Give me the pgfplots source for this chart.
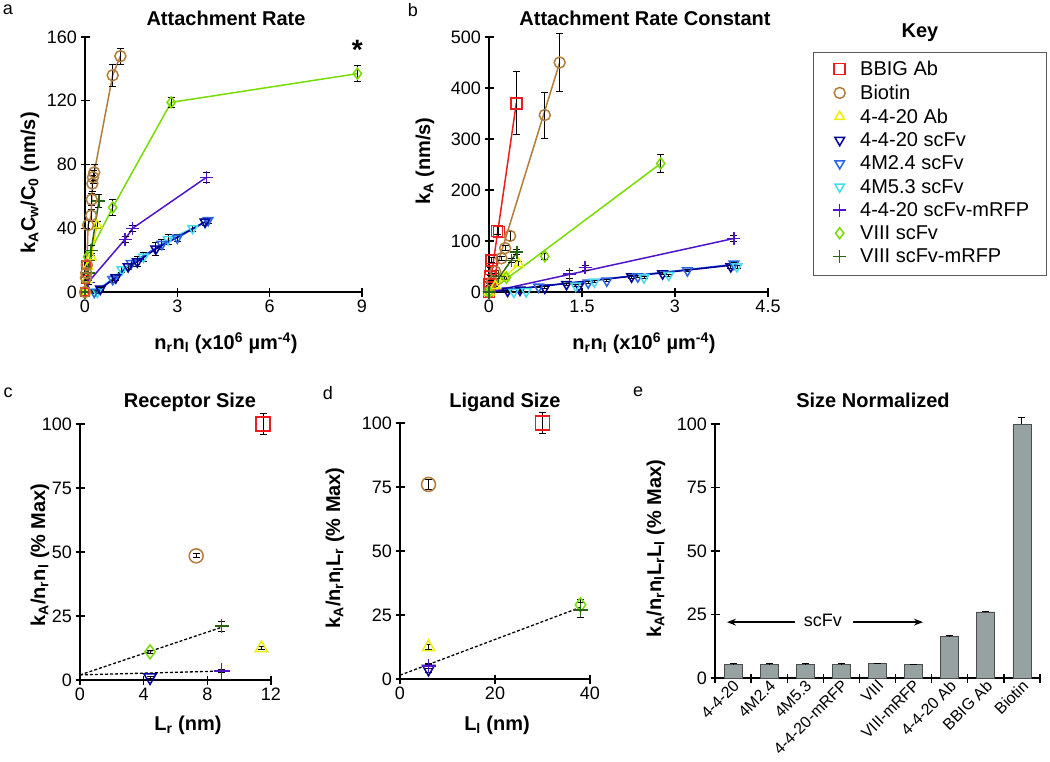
\documentclass[border=0pt]{standalone}
\usepackage{fontspec}
\setmainfont{Liberation Sans}
\usepackage{pgfplots}
\pgfplotsset{compat=1.18}
\usetikzlibrary{arrows.meta}

\definecolor{cRed}{RGB}{235,30,30}
\definecolor{cBrown}{RGB}{178,125,60}
\definecolor{cYel}{RGB}{238,238,0}
\definecolor{cDBlue}{RGB}{0,0,150}
\definecolor{cMBlue}{RGB}{40,100,230}
\definecolor{cCyan}{RGB}{70,220,240}
\definecolor{cPurp}{RGB}{80,20,200}
\definecolor{cLGreen}{RGB}{120,220,0}
\definecolor{cDGreen}{RGB}{40,100,20}
\definecolor{cBar}{RGB}{150,162,162}

\newcommand{\tfont}{\bfseries\fontsize{20}{24}\selectfont}
\newcommand{\lfont}{\bfseries\fontsize{20}{24}\selectfont}

\pgfplotsset{
  panel/.style={scale only axis, clip=false, anchor=south west,
    axis x line*=bottom, axis y line*=left,
    axis line style={line width=1.6pt,-},
    every tick/.style={black, line width=1.3pt},
    tick align=center, major tick length=9pt,
    tick label style={font=\fontsize{18}{18}\selectfont},
    /pgf/number format/assume math mode=true},
  eb/.style={error bars/.cd, y dir=both, y explicit,
    error bar style={black, line width=0.9pt},
    error mark options={black, rotate=90, mark size=3.5pt, line width=0.9pt}},
  s1/.style={cRed, mark=square, line width=1.5pt, mark options={solid}},
  s2/.style={cBrown, mark=o, line width=1.5pt, mark options={solid}},
  s3/.style={cYel, mark=triangle, line width=1.5pt, mark options={solid}},
  s4/.style={cDBlue, mark=triangle, line width=1.5pt, mark options={solid, rotate=180}},
  s5/.style={cMBlue, mark=triangle, line width=1.5pt, mark options={solid, rotate=180}},
  s6/.style={cCyan, mark=triangle, line width=1.5pt, mark options={solid, rotate=180}},
  s7/.style={cPurp, mark=+, line width=1.5pt, mark options={solid}},
  s8/.style={cLGreen, mark=diamond, line width=1.5pt, mark options={solid}},
  s9/.style={cDGreen, mark=+, line width=1.5pt, mark options={solid}},
}

\begin{document}
\begin{tikzpicture}
\useasboundingbox (0,0) rectangle (1050pt,-761pt);

% ---------------- a: Attachment Rate
\begin{axis}[panel, at={(85pt,-292pt)}, width=277pt, height=255pt,
  xmin=0, xmax=9, ymin=0, ymax=160, xtick={0,3,6,9}, ytick={0,40,...,160},
  mark size=5.5pt]
\addplot[s6, eb] coordinates {(0.4,0)+-(0,1) (1.2,14)+-(0,2) (1.9,22)+-(0,3) (2.7,33)+-(0,3) (3.5,40)+-(0,2) (3.9,44)+-(0,2)};
\addplot[s5, eb] coordinates {(0.3,0)+-(0,1) (0.9,8)+-(0,2) (1.5,18)+-(0,2) (2.5,30)+-(0,3) (3.0,34)+-(0,2) (4.0,45)+-(0,2)};
\addplot[s4, eb] coordinates {(0.5,2)+-(0,1) (1.0,9)+-(0,2) (1.4,16)+-(0,2) (1.7,19)+-(0,3) (2.3,27)+-(0,4) (3.9,44)+-(0,2)};
\addplot[s7, mark size=6.5pt, eb] coordinates {(0.1,6)+-(0,1) (1.3,33)+-(0,2) (1.55,40)+-(0,2) (3.95,72)+-(0,3)};
\addplot[s8, eb] coordinates {(0,0)+-(0,0) (0.08,22)+-(0,3) (0.9,53)+-(0,5) (2.8,119)+-(0,3) (8.85,137)+-(0,5)};
\addplot[s3, eb] coordinates {(0,0)+-(0,0) (0.05,8)+-(0,1) (0.1,16)+-(0,2) (0.2,22)+-(0,2) (0.39,42)+-(0,2)};
\addplot[s9, mark size=6.5pt, eb] coordinates {(0,0)+-(0,0) (0.1,12)+-(0,2) (0.2,26)+-(0,3) (0.45,57)+-(0,4)};
\addplot[s1, mark size=4pt, eb] coordinates {(0,0)+-(0,0) (0.02,8)+-(0,1) (0.04,17)+-(0,2)};
\addplot[s2, eb] coordinates {(0,0)+-(0,0) (0.03,9)+-(0,2) (0.04,12)+-(0,2) (0.06,17)+-(0,2) (0.1,42)+-(0,3) (0.2,48)+-(0,4) (0.22,58)+-(0,4) (0.24,68)+-(0,5) (0.26,72)+-(0,4) (0.3,75)+-(0,5) (0.9,136)+-(0,7) (1.15,148)+-(0,5)};
\node[font=\bfseries\fontsize{28}{28}\selectfont] at (axis cs:8.85,152) {*};
\end{axis}

% ---------------- b: Attachment Rate Constant
\begin{axis}[panel, at={(489pt,-292pt)}, width=279pt, height=255pt,
  xmin=0, xmax=4.5, ymin=0, ymax=500, xtick={0,1.5,3,4.5}, ytick={0,100,...,500},
  mark size=5.5pt,
  legend style={at={(1.233,0.914)}, anchor=north west, draw=none, fill=none,
    inner sep=0pt, font=\fontsize{20}{23}\selectfont, row sep=3.8pt,
    /tikz/every odd column/.append style={column sep=12pt}},
  legend cell align=left]
% fit lines
\addplot[cMBlue, line width=1.5pt, forget plot] coordinates {(0,0) (4.0,55)};
\addplot[cDBlue, line width=1.5pt, forget plot] coordinates {(0,0) (3.95,53)};
\addplot[cPurp, line width=1.5pt, forget plot] coordinates {(0,0) (3.95,105)};
\addplot[cLGreen, line width=1.5pt, forget plot] coordinates {(0,0) (2.77,252)};
\addplot[cYel, line width=1.5pt, forget plot] coordinates {(0,0) (0.48,55)};
\addplot[cDGreen, line width=1.5pt, forget plot] coordinates {(0,0) (0.45,78)};
\addplot[cBrown, line width=1.5pt, forget plot] coordinates {(0,0) (1.14,450)};
\addplot[cRed, line width=1.5pt, forget plot] coordinates {(0,0) (0.44,370)};
% data
\addplot[s1, only marks, eb] coordinates {(0,0)+-(0,0) (0.01,15)+-(0,2) (0.02,30)+-(0,3) (0.03,45)+-(0,4) (0.04,62)+-(0,5) (0.13,120)+-(0,8) (0.16,118)+-(0,10) (0.44,370)+-(0,62)};
\addlegendentry{BBIG Ab}
\addplot[s2, only marks, eb] coordinates {(0,0)+-(0,0) (0.05,20)+-(0,2) (0.1,40)+-(0,3) (0.2,66)+-(0,4) (0.26,86)+-(0,5) (0.34,110)+-(0,8) (0.9,347)+-(0,45) (1.14,450)+-(0,57)};
\addlegendentry{Biotin}
\addplot[s3, only marks, eb] coordinates {(0,0)+-(0,0) (0.1,12)+-(0,2) (0.25,28)+-(0,3) (0.48,55)+-(0,5)};
\addlegendentry{4-4-20 Ab}
\addplot[s4, only marks, eb] coordinates {(0.3,2)+-(0,1) (0.5,4)+-(0,1) (0.9,8)+-(0,2) (1.25,15)+-(0,2) (1.45,12)+-(0,2) (2.3,30)+-(0,3) (2.8,36)+-(0,2) (3.9,50)+-(0,3)};
\addlegendentry{4-4-20 scFv}
\addplot[s5, only marks, eb] coordinates {(0.8,10)+-(0,1) (1.6,18)+-(0,2) (1.9,22)+-(0,2) (2.4,30)+-(0,2) (3.2,42)+-(0,2) (3.95,55)+-(0,3)};
\addlegendentry{4M2.4 scFv}
\addplot[s6, only marks, eb] coordinates {(0.4,0)+-(0,1) (0.6,1)+-(0,1) (1.4,12)+-(0,2) (1.7,20)+-(0,2) (2.5,28)+-(0,2) (2.9,33)+-(0,2) (4.0,50)+-(0,3)};
\addlegendentry{4M5.3 scFv}
\addplot[s7, only marks, mark size=6.5pt, eb] coordinates {(0,0)+-(0,0) (1.3,35)+-(0,8) (1.55,48)+-(0,5) (3.95,105)+-(0,6)};
\addlegendentry{4-4-20 scFv-mRFP}
\addplot[s8, only marks, eb] coordinates {(0,0)+-(0,0) (0.28,28)+-(0,3) (0.9,70)+-(0,6) (2.77,252)+-(0,17)};
\addlegendentry{VIII scFv}
\addplot[s9, only marks, mark size=6.5pt, eb] coordinates {(0,0)+-(0,0) (0.15,30)+-(0,3) (0.36,62)+-(0,4) (0.45,78)+-(0,5)};
\addlegendentry{VIII scFv-mRFP}
\end{axis}

% ---------------- c: Receptor Size
\begin{axis}[panel, at={(80pt,-680pt)}, width=191pt, height=256pt,
  xmin=0, xmax=12, ymin=0, ymax=100, xtick={0,4,8,12}, ytick={0,25,...,100},
  mark size=7pt]
\addplot[black, densely dashed, line width=1.3pt] coordinates {(0,2) (8.9,20.6)};
\addplot[black, densely dashed, line width=1.3pt] coordinates {(0,2) (8.9,3.5)};
\addplot[s1, only marks, eb] coordinates {(11.5,100)+-(0,4)};
\addplot[s2, only marks, eb] coordinates {(7.3,48.5)+-(0,0.8)};
\addplot[s3, only marks, eb] coordinates {(11.4,12.5)+-(0,0.6)};
\addplot[s4, only marks, eb] coordinates {(4.4,1)+-(0,0.3)};
\addplot[s8, only marks, eb] coordinates {(4.4,11)+-(0,0.5)};
\addplot[s7, only marks, mark size=8pt, eb] coordinates {(8.9,3.5)+-(0,0.5)};
\addplot[s9, only marks, eb] coordinates {(8.9,21)+-(0,2)};
\end{axis}

% ---------------- d: Ligand Size
\begin{axis}[panel, at={(400pt,-679pt)}, width=190pt, height=256pt,
  xmin=0, xmax=40, ymin=0, ymax=100, xtick={0,20,40}, ytick={0,25,...,100},
  mark size=7pt]
\addplot[black, densely dashed, line width=1.3pt] coordinates {(0,1.5) (38,28)};
\addplot[s1, only marks, eb] coordinates {(30,100)+-(0,4)};
\addplot[s2, only marks, eb] coordinates {(6,76)+-(0,2)};
\addplot[s3, only marks, eb] coordinates {(6,12.5)+-(0,1)};
\addplot[s4, only marks, eb] coordinates {(6,4)+-(0,1.5)};
\addplot[s7, only marks, eb] coordinates {(6,5)+-(0,1)};
\addplot[s8, only marks, eb] coordinates {(38,29)+-(0,2)};
\addplot[s9, only marks, eb] coordinates {(38,27)+-(0,3)};
\end{axis}

% ---------------- e: Size Normalized
\begin{axis}[panel, at={(715pt,-678pt)}, width=325pt, height=254pt,
  xmin=-0.5, xmax=8.5, ymin=0, ymax=100, ytick={0,25,...,100},
  xtick={-0.5,0.5,...,8.5}, xticklabels={},
  extra x ticks={0,1,2,3,4,5,6,7,8},
  extra x tick labels={4-4-20,4M2.4,4M5.3,4-4-20-mRFP,VIII,VIII-mRFP,4-4-20 Ab,BBIG Ab,Biotin},
  extra x tick style={major tick length=0pt,
    xticklabel style={rotate=45, anchor=north east, inner sep=1pt, yshift=1pt,
      font=\fontsize{16}{16}\selectfont}}]
\addplot[ybar, bar width=18pt, fill=cBar, draw=gray!60!black, line width=0.8pt,
  error bars/.cd, y dir=plus, y explicit,
  error bar style={black, line width=0.9pt},
  error mark options={black, rotate=90, mark size=3.5pt, line width=0.9pt}]
  coordinates {(0,5.5)+-(0,0.2) (1,5.5)+-(0,0.2) (2,5.5)+-(0,0.2) (3,5.5)+-(0,0.2)
    (4,5.7)+-(0,0.2) (5,5.2)+-(0,0.2) (6,16.3)+-(0,0.6) (7,26)+-(0,0.2) (8,100)+-(0,2.5)};
\draw[{Stealth[length=9pt]}-, line width=1.3pt] (axis cs:-0.17,22) -- (axis cs:1.72,22);
\draw[-{Stealth[length=9pt]}, line width=1.3pt] (axis cs:3.32,22) -- (axis cs:5.26,22);
\node[font=\fontsize{18}{18}\selectfont] at (axis cs:2.49,22.5) {scFv};
\end{axis}

% legend frame
\draw[gray!70!black, line width=0.8pt] (813pt,-52pt) rectangle (1046pt,-275pt);

% ---------------- titles, labels, panel letters
\node[font=\tfont] at (226pt,-18pt) {Attachment Rate};
\node[font=\tfont] at (645pt,-18pt) {Attachment Rate Constant};
\node[font=\tfont] at (920pt,-33pt) {Key};
\node[font=\tfont] at (190pt,-402pt) {Receptor Size};
\node[font=\tfont] at (505pt,-402pt) {Ligand Size};
\node[font=\tfont] at (873pt,-400pt) {Size Normalized};

\node[font=\fontsize{18}{18}\selectfont] at (8pt,-10pt) {a};
\node[font=\fontsize{18}{18}\selectfont] at (413pt,-10pt) {b};
\node[font=\fontsize{18}{18}\selectfont] at (8pt,-393pt) {c};
\node[font=\fontsize{18}{18}\selectfont] at (328pt,-393pt) {d};
\node[font=\fontsize{18}{18}\selectfont] at (638pt,-392pt) {e};

\node[font=\lfont, rotate=90] at (30pt,-183pt) {k\textsubscript{A}C\textsubscript{w}/C\textsubscript{0} (nm/s)};
\node[font=\lfont, rotate=90] at (425pt,-161pt) {k\textsubscript{A} (nm/s)};
\node[font=\lfont, rotate=90] at (40pt,-555pt) {k\textsubscript{A}/n\textsubscript{r}n\textsubscript{l} (\% Max)};
\node[font=\lfont, rotate=90] at (335pt,-548pt) {k\textsubscript{A}/n\textsubscript{r}n\textsubscript{l}L\textsubscript{r} (\% Max)};
\node[font=\lfont, rotate=90] at (656pt,-549pt) {k\textsubscript{A}/n\textsubscript{r}n\textsubscript{l}L\textsubscript{r}L\textsubscript{l} (\% Max)};

\node[font=\lfont] at (226pt,-343pt) {n\textsubscript{r}n\textsubscript{l} (x10\textsuperscript{6} µm\textsuperscript{-4})};
\node[font=\lfont] at (644pt,-343pt) {n\textsubscript{r}n\textsubscript{l} (x10\textsuperscript{6} µm\textsuperscript{-4})};
\node[font=\lfont] at (188pt,-725pt) {L\textsubscript{r} (nm)};
\node[font=\lfont] at (497pt,-725pt) {L\textsubscript{l} (nm)};
\end{tikzpicture}
\end{document}
